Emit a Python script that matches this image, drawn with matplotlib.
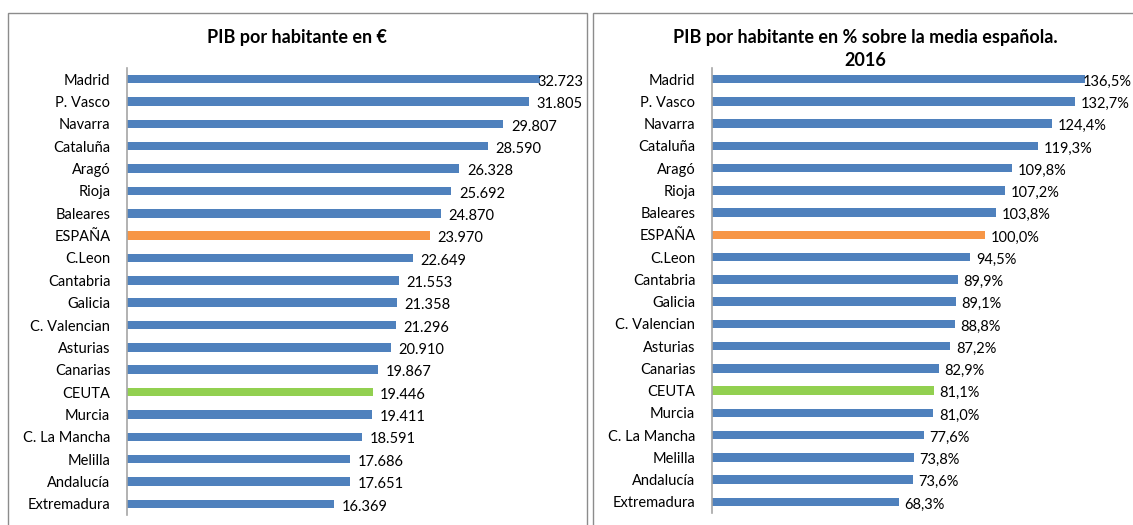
import matplotlib
matplotlib.use("Agg")
from matplotlib import pyplot as plt
from matplotlib.patches import Rectangle

regions = ["Madrid", "P. Vasco", "Navarra", "Cataluña", "Aragó", "Rioja",
           "Baleares", "ESPAÑA", "C.Leon", "Cantabria", "Galicia",
           "C. Valencian", "Asturias", "Canarias", "CEUTA", "Murcia",
           "C. La Mancha", "Melilla", "Andalucía", "Extremadura"]
pib_euros = [32723, 31805, 29807, 28590, 26328, 25692, 24870, 23970, 22649,
             21553, 21358, 21296, 20910, 19867, 19446, 19411, 18591, 17686,
             17651, 16369]
pib_pct = [136.5, 132.7, 124.4, 119.3, 109.8, 107.2, 103.8, 100.0, 94.5,
           89.9, 89.1, 88.8, 87.2, 82.9, 81.1, 81.0, 77.6, 73.8, 73.6, 68.3]

BLUE = "#4F81BD"
ORANGE = "#F79646"
GREEN = "#92D050"

plt.rcParams['font.family'] = ['Lato', 'DejaVu Sans']
plt.rcParams['font.size'] = 10

W, H = 1133, 525
fig = plt.figure(figsize=(W / 100, H / 100), dpi=100)

colors = []
for r in regions:
    if r == "ESPAÑA":
        colors.append(ORANGE)
    elif r == "CEUTA":
        colors.append(GREEN)
    else:
        colors.append(BLUE)


def px(x0, y0, x1, y1):
    # pixel box -> figure fraction [left, bottom, width, height]
    return [x0 / W, 1 - y1 / H, (x1 - x0) / W, (y1 - y0) / H]


# panel borders
for x0, x1 in [(8, 587), (593, 1140)]:
    fig.patches.append(Rectangle((x0 / W, -0.05), (x1 - x0) / W, 1.05 - 13 / H,
                                 transform=fig.transFigure, fill=False,
                                 edgecolor="#8C8C8C", linewidth=1))


def draw(ax, values, xmax, fmt, gap):
    pos = list(range(len(regions)))
    ax.barh(pos, values, height=0.38, color=colors)
    ax.set_ylim(len(regions) - 0.5, -0.5)
    ax.set_xlim(0, xmax)
    ax.set_yticks(pos)
    ax.set_yticklabels(regions, fontsize=10.5)
    ax.tick_params(axis='y', length=0, pad=12)
    ax.set_xticks([])
    for s in ["top", "right", "bottom"]:
        ax.spines[s].set_visible(False)
    ax.spines["left"].set_color("#A6A6A6")
    ax.spines["left"].set_linewidth(1.2)
    for i, (p, v) in enumerate(zip(pos, values)):
        off = -2 if i == 0 else gap
        ax.annotate(fmt(v), (v, p + 0.12), xytext=(off, 0),
                    textcoords='offset points', va='center', ha='left',
                    fontsize=10.5)


ax1 = fig.add_axes(px(127, 68, 569, 515))
draw(ax1, pib_euros, 35000, lambda v: f"{v:,}".replace(",", "."), 5.5)

ax2 = fig.add_axes(px(712, 68, 1122, 513))
draw(ax2, pib_pct, 150, lambda v: f"{v:.1f}".replace(".", ",") + "%", 4)

fig.text(297 / W, 1 - 37 / H, "PIB por habitante en €", ha='center',
         va='center', fontsize=13, fontweight='bold')
fig.text(865 / W, 1 - 37 / H, "PIB por habitante en % sobre la media española.",
         ha='center', va='center', fontsize=13, fontweight='bold')
fig.text(865 / W, 1 - 60 / H, "2016", ha='center', va='center', fontsize=13,
         fontweight='bold')

fig.savefig("out.png", dpi=100)
